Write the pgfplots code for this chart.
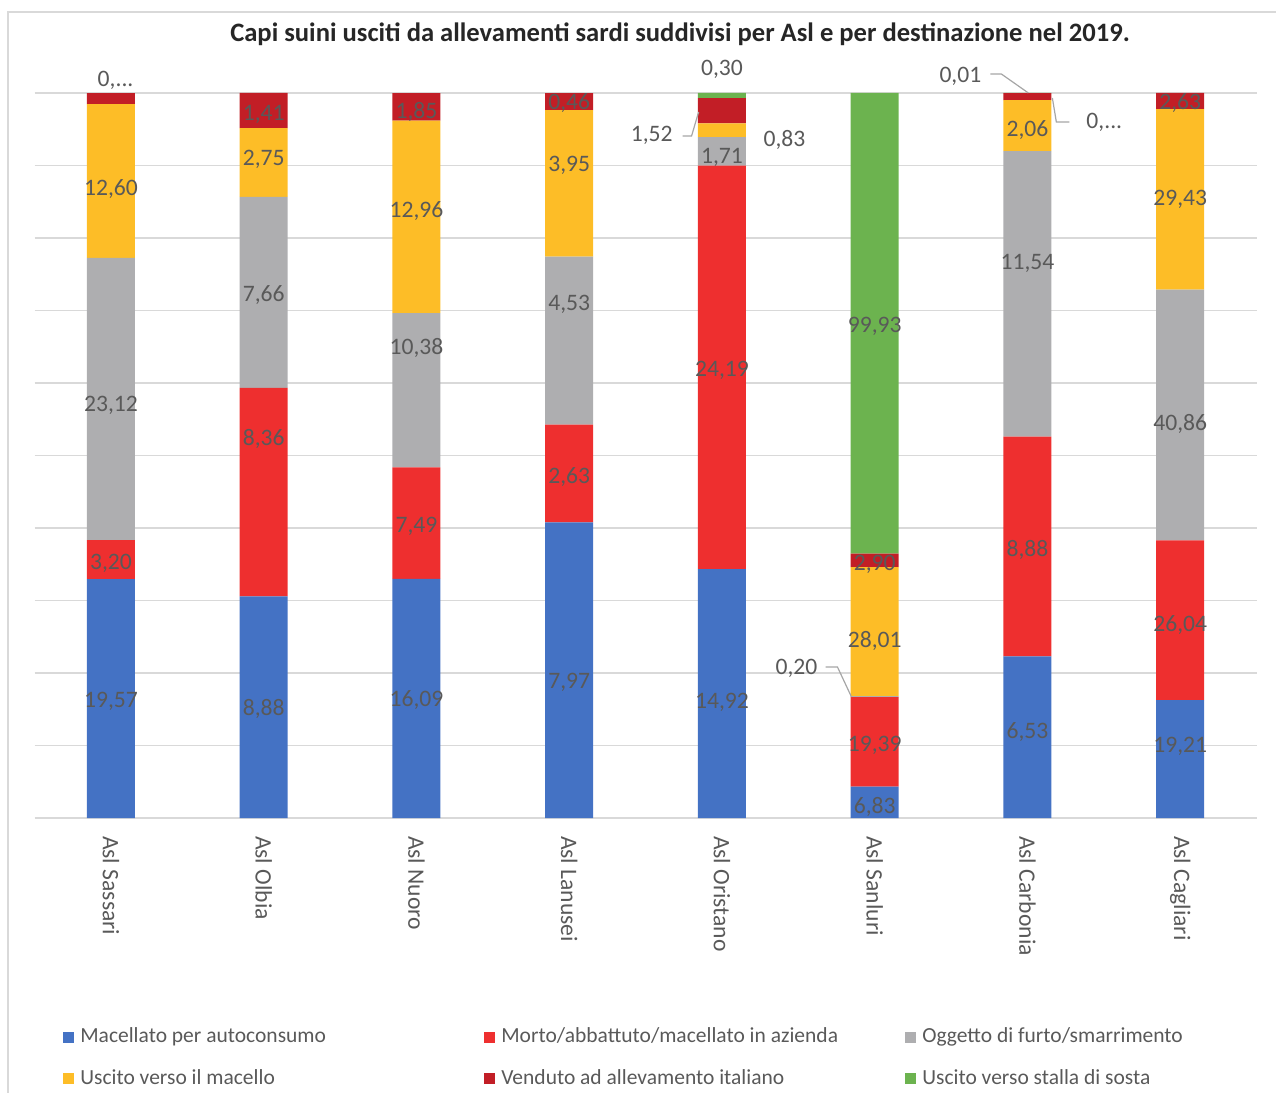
\documentclass[border=0pt]{standalone}
\usepackage{pgfplots}
\pgfplotsset{compat=1.18}
\usepackage{pgfplotstable}
\usepackage{fontspec}
\setmainfont{Carlito}
\definecolor{cblue}{HTML}{4472C4}
\definecolor{cred}{HTML}{EE2F2F}
\definecolor{cgray}{HTML}{AEAEB0}
\definecolor{cyellow}{HTML}{FDBD27}
\definecolor{cdred}{HTML}{C21E26}
\definecolor{cgreen}{HTML}{6CB34F}
\definecolor{labgray}{HTML}{595959}
\definecolor{gridgray}{HTML}{D9D9D9}
\definecolor{leadgray}{HTML}{A6A6A6}

% raw values of each destination per Asl (bar heights are shares of each Asl's total)
\pgfplotstableread{
x mac morto furto macello venduto stalla lmac lmorto lfurto lmacello lvenduto lstalla
0 19.57 3.20 23.12 12.60 0.92 0 19,57 3,20 23,12 12,60 {} {}
1 8.88 8.36 7.66 2.75 1.41 0 8,88 8,36 7,66 2,75 1,41 {}
2 16.09 7.49 10.38 12.96 1.85 0 16,09 7,49 10,38 12,96 1,85 {}
3 7.97 2.63 4.53 3.95 0.46 0 7,97 2,63 4,53 3,95 0,46 {}
4 14.92 24.19 1.71 0.83 1.52 0.30 14,92 24,19 1,71 {} {} {}
5 6.83 19.39 0.20 28.01 2.90 99.93 6,83 19,39 {} 28,01 2,90 99,93
6 6.53 8.88 11.54 2.06 0.28 0.01 6,53 8,88 11,54 2,06 {} {}
7 19.21 26.04 40.86 29.43 2.63 0 19,21 26,04 40,86 29,43 2,63 {}
}\data
% label placement offsets (downward, in units of 0.5pt) as in the reference
\pgfplotstableread{
x dmac dmorto dfurto dmacello dvenduto dstalla
0 3 4 6 8 0 0
1 2 -53 3 -3 4 0
2 2 3 -42 -6 5 0
3 12 4 -36 -18 2 0
4 9 3 6 0 0 0
5 5 4 0 9 4 3
6 -5 3 -30 4 0 0
7 -13 5 9 0 2 0
}\offs
\pgfplotstablecreatecol[copy column from table={\offs}{dmac}]{dmac}{\data}
\pgfplotstablecreatecol[copy column from table={\offs}{dmorto}]{dmorto}{\data}
\pgfplotstablecreatecol[copy column from table={\offs}{dfurto}]{dfurto}{\data}
\pgfplotstablecreatecol[copy column from table={\offs}{dmacello}]{dmacello}{\data}
\pgfplotstablecreatecol[copy column from table={\offs}{dvenduto}]{dvenduto}{\data}
\pgfplotstablecreatecol[copy column from table={\offs}{dstalla}]{dstalla}{\data}
\newcommand{\tot}{(\thisrow{mac}+\thisrow{morto}+\thisrow{furto}+\thisrow{macello}+\thisrow{venduto}+\thisrow{stalla})}
\newcommand{\lf}{\fontsize{11.8}{14}\selectfont}
\newcommand{\legf}{\fontsize{10.75}{13}\selectfont}

\pgfplotsset{common/.style={
  scale only axis, width=611pt, height=362.5pt,
  at={(0pt,0pt)}, anchor=south west,
  xmin=-0.5, xmax=7.5, ymin=0, ymax=100,
  clip=false}}

\begin{document}
\begin{tikzpicture}
\useasboundingbox (-17.3pt,-137.5pt) rectangle (620.7pt,409pt);
\draw[gridgray, line width=0.8pt] (-13.3pt,-200pt) -- (-13.3pt,403pt) -- (700pt,403pt);
\begin{axis}[
  common,
  ybar stacked, bar width=24pt,
  axis line style={draw=none},
  ytick={0,10,...,100}, yticklabels={},
  ymajorgrids, major grid style={draw=gridgray, line width=0.8pt},
  tick style={draw=none},
  xtick={0,...,7},
  xticklabels={Asl Sassari,Asl Olbia,Asl Nuoro,Asl Lanusei,Asl Oristano,Asl Sanluri,Asl Carbonia,Asl Cagliari},
  xticklabel style={yshift=-1.5pt, rotate=-90, anchor=west, font=\lf, text=labgray},
  xticklabel shift=4pt,
  legend columns=3,
  legend cell align=left,
  legend image code/.code={\fill[#1] (0pt,-2.75pt) rectangle (5.5pt,2.75pt);},
  legend style={at={(axis description cs:0.0232,-0.2877)}, anchor=north west, draw=none, fill=none,
    inner sep=0pt, column sep=0pt, row sep=10.5pt,
    font=\legf, text=labgray,
    nodes={inner sep=0pt, text height=8pt, text depth=2.3pt}},
]
\addplot[fill=cblue, draw=none] table[x=x, y expr=\thisrow{mac}/\tot*100] {\data};
\addlegendentry{\makebox[205pt][l]{\hspace{3pt}Macellato per autoconsumo}}
\addplot[fill=cred, draw=none] table[x=x, y expr=\thisrow{morto}/\tot*100] {\data};
\addlegendentry{\makebox[205pt][l]{\hspace{3pt}Morto/abbattuto/macellato in azienda}}
\addplot[fill=cgray, draw=none] table[x=x, y expr=\thisrow{furto}/\tot*100] {\data};
\addlegendentry{\makebox[205pt][l]{\hspace{3pt}Oggetto di furto/smarrimento}}
\addplot[fill=cyellow, draw=none] table[x=x, y expr=\thisrow{macello}/\tot*100] {\data};
\addlegendentry{\makebox[205pt][l]{\hspace{3pt}Uscito verso il macello}}
\addplot[fill=cdred, draw=none] table[x=x, y expr=\thisrow{venduto}/\tot*100] {\data};
\addlegendentry{\makebox[205pt][l]{\hspace{3pt}Venduto ad allevamento italiano}}
\addplot[fill=cgreen, draw=none] table[x=x, y expr=\thisrow{stalla}/\tot*100] {\data};
\addlegendentry{\makebox[205pt][l]{\hspace{3pt}Uscito verso stalla di sosta}}
\end{axis}

% value labels, centred in their segments (with the reference's small offsets)
\begin{axis}[
  common, hide axis,
  point meta=explicit symbolic,
  nodes near coords={\pgfplotspointmeta},
  every node near coord/.append style={font=\lf, text=labgray, anchor=center},
]
\addplot[draw=none, mark=none] table[x=x, y expr=(\thisrow{mac}/2)/\tot*100-\thisrow{dmac}/7.25, meta=lmac] {\data};
\addplot[draw=none, mark=none] table[x=x, y expr=(\thisrow{mac}+\thisrow{morto}/2)/\tot*100-\thisrow{dmorto}/7.25, meta=lmorto] {\data};
\addplot[draw=none, mark=none] table[x=x, y expr=(\thisrow{mac}+\thisrow{morto}+\thisrow{furto}/2)/\tot*100-\thisrow{dfurto}/7.25, meta=lfurto] {\data};
\addplot[draw=none, mark=none] table[x=x, y expr=(\thisrow{mac}+\thisrow{morto}+\thisrow{furto}+\thisrow{macello}/2)/\tot*100-\thisrow{dmacello}/7.25, meta=lmacello] {\data};
\addplot[draw=none, mark=none] table[x=x, y expr=(\thisrow{mac}+\thisrow{morto}+\thisrow{furto}+\thisrow{macello}+\thisrow{venduto}/2)/\tot*100-\thisrow{dvenduto}/7.25, meta=lvenduto] {\data};
\addplot[draw=none, mark=none] table[x=x, y expr=(\thisrow{mac}+\thisrow{morto}+\thisrow{furto}+\thisrow{macello}+\thisrow{venduto}+\thisrow{stalla}/2)/\tot*100-\thisrow{dstalla}/7.25, meta=lstalla] {\data};

% labels set outside their segments
\node[font=\lf, text=labgray] at (axis cs:0.03,101.8) {0,...};
\node[font=\lf, text=labgray] at (axis cs:4,103.3) {0,30};
\node[font=\lf, text=labgray] at (axis cs:3.54,94.2) {1,52};
\node[font=\lf, text=labgray] at (axis cs:4.409,93.5) {0,83};
\node[font=\lf, text=labgray] at (axis cs:4.488,20.7) {0,20};
\node[font=\lf, text=labgray] at (axis cs:5.561,102.3) {0,01};
\node[font=\lf, text=labgray] at (axis cs:6.503,96.0) {0,...};
\draw[leadgray, line width=0.6pt] (axis cs:3.742,94.07) -- (axis cs:3.801,94.07) -- (axis cs:3.847,97.38);
\draw[leadgray, line width=0.6pt] (axis cs:4.678,20.83) -- (axis cs:4.756,20.83) -- (axis cs:4.848,16.69);
\draw[leadgray, line width=0.6pt] (axis cs:5.757,102.62) -- (axis cs:5.829,102.62) -- (axis cs:6.006,100);
\draw[leadgray, line width=0.6pt] (axis cs:6.274,96.0) -- (axis cs:6.189,96.0) -- (axis cs:6.163,99.31);
\end{axis}
\node[font=\fontsize{13.3}{16}\selectfont\bfseries, text=black!85] at (322.7pt,392pt) {Capi suini usciti da allevamenti sardi suddivisi per Asl e per destinazione nel 2019.};
\end{tikzpicture}
\end{document}
